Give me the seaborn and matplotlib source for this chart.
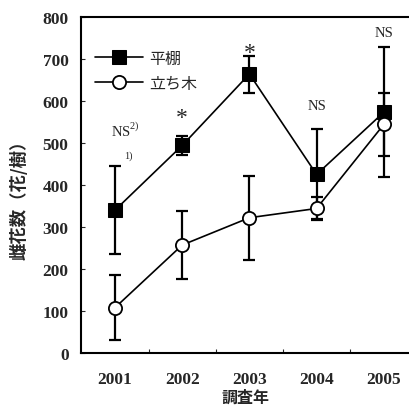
import matplotlib
matplotlib.use("Agg")
import matplotlib.pyplot as plt
import numpy as np
import pandas as pd
import seaborn as sns

# ── Data ──────────────────────────────────────────────────────────────────────
years = [2001, 2002, 2003, 2004, 2005]
hiratana_mean = [340, 494, 664, 425, 573]
hiratana_err = [105, 22, 44, 107, 155]
tachiki_mean = [108, 257, 322, 344, 544]
tachiki_err = [77, 80, 100, 27, 75]
sig_labels = ["NS$^{2)}$", "*", "*", "NS", "NS"]
sig_y = [534, 560, 715, 589, 762]

series_names = ["平棚", "立ち木"]

df = pd.DataFrame({
    "year": years * 2,
    "value": hiratana_mean + tachiki_mean,
    "series": [series_names[0]] * 5 + [series_names[1]] * 5,
})

# ── Style ─────────────────────────────────────────────────────────────────────
sns.set_style("ticks")
plt.rcParams["font.family"] = ["Liberation Serif", "Noto Sans CJK JP"]
plt.rcParams["mathtext.fontset"] = "custom"
plt.rcParams["mathtext.rm"] = "Liberation Serif"

fig = plt.figure(figsize=(4.10, 4.06), dpi=100)
ax = fig.add_axes([0.1976, 0.128, 0.8024, 0.828])

# error bars first so markers sit on top
ax.errorbar(years, hiratana_mean, yerr=hiratana_err, fmt="none",
            ecolor="black", elinewidth=1.6, capsize=4.5, capthick=1.6, zorder=2)
ax.errorbar(years, tachiki_mean, yerr=tachiki_err, fmt="none",
            ecolor="black", elinewidth=1.6, capsize=4.5, capthick=1.6, zorder=2)

sns.lineplot(data=df, x="year", y="value", hue="series", style="series",
             markers={"平棚": "s", "立ち木": "o"}, dashes=False,
             palette={"平棚": "black", "立ち木": "black"},
             linewidth=1.2, markersize=10.5, ax=ax, zorder=3)

# marker faces
for line in ax.lines:
    if line.get_marker() == "o":
        line.set_markerfacecolor("white")
        line.set_markeredgecolor("black")
        line.set_markeredgewidth(1.3)
        line.set_markersize(9.5)
    elif line.get_marker() == "s":
        line.set_markerfacecolor("black")
        line.set_markeredgecolor("black")

ax.set_xlim(2000.494, 2005.39)
ax.set_ylim(0, 800)
ax.set_xticks(years)
ax.set_xticks([2001.5, 2002.5, 2003.5, 2004.5], minor=True)
ax.set_yticks(range(0, 801, 100))
ax.tick_params(axis="x", which="major", length=0, pad=13, labelsize=12.5)
ax.tick_params(axis="x", which="minor", direction="in", length=3, width=0.8)
ax.tick_params(axis="y", direction="in", length=3, width=0.8, pad=9, labelsize=12.5)
for lbl in ax.get_xticklabels() + ax.get_yticklabels():
    lbl.set_fontweight("bold")

for side in ["left", "bottom", "top"]:
    ax.spines[side].set_linewidth(1.5)
    ax.spines[side].set_color("black")
ax.spines["right"].set_visible(False)

ax.set_xlabel("調査年", fontsize=11.5, fontweight="bold",
              family=["Noto Sans CJK JP"], labelpad=1)
ax.set_ylabel("雌花数（花/樹）", fontsize=12.5, fontweight="bold",
              family=["Noto Sans CJK JP"])
ax.yaxis.set_label_coords(-0.16, 0.47)

# significance labels
for yr, lab, yy in zip(years, sig_labels, sig_y):
    ax.text(yr + (0.15 if lab.startswith("NS$") else 0), yy, lab,
            ha="center", va="center",
            fontsize=17 if lab == "*" else 10.5)
ax.text(2001.2, 470, "1)", ha="center", va="center", fontsize=7.5)

# legend
handles, labels = ax.get_legend_handles_labels()
leg = ax.legend(handles, labels, loc="upper left", bbox_to_anchor=(0.0, 0.945),
                frameon=False, handlelength=3.0, handletextpad=0.4,
                labelspacing=0.5, prop={"family": ["Noto Sans CJK JP"], "size": 11.5})

fig.savefig("out.png", dpi=100)
